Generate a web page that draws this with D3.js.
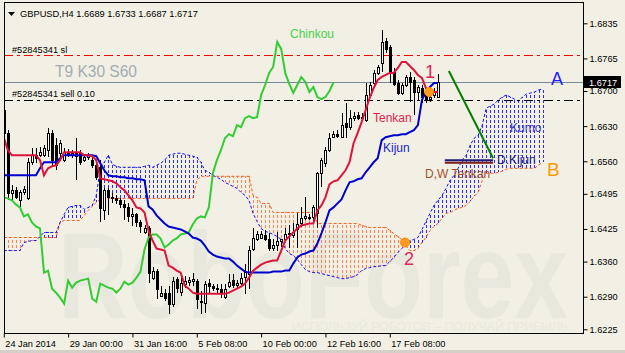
<!DOCTYPE html>
<html>
<head>
<meta charset="utf-8">
<script src="https://cdn.jsdelivr.net/npm/d3@7"></script>
<style>
body { margin: 0; background: #f2f0e4; }
svg { display: block; font-family: "Liberation Sans", Arial, sans-serif; }
</style>
</head>
<body>
<svg id="chart" width="625" height="353"></svg>
<script>
// GBPUSD H4 bars, 24 Jan 2014 08:00 onwards (one value per bar)
var open = [1.6662,1.6616,1.6496,1.6502,1.6482,1.6498,1.6486,1.6558,1.6572,1.6572,
1.6572,1.6582,1.6616,1.6592,1.6576,1.6562,1.6578,1.6572,1.6576,1.6576,
1.6562,1.6568,1.6562,1.6552,1.6548,1.6462,1.6502,1.6488,1.6486,1.6482,
1.6474,1.6468,1.6450,1.6454,1.6438,1.6418,1.6426,1.6328,1.6342,1.6292,
1.6298,1.6298,1.6276,1.6326,1.6300,1.6316,1.6320,1.6322,1.6322,1.6282,
1.6278,1.6318,1.6312,1.6308,1.6306,1.6290,1.6312,1.6324,1.6314,1.6318,
1.6330,1.6336,1.6386,1.6406,1.6408,1.6412,1.6406,1.6388,1.6394,1.6402,
1.6406,1.6414,1.6412,1.6424,1.6436,1.6446,1.6446,1.6448,1.6456,1.6536,
1.6556,1.6582,1.6608,1.6614,1.6608,1.6636,1.6628,1.6646,1.6652,1.6646,
1.6642,1.6692,1.6716,1.6736,1.6756,1.6800,1.6788,1.6738,1.6716,1.6696,
1.6712,1.6728,1.6722,1.6698,1.6706,1.6692,1.6684,1.6692,1.6689];
var high = [1.6668,1.6622,1.6512,1.6508,1.6502,1.6510,1.6566,1.6586,1.6586,1.6588,
1.6592,1.6626,1.6622,1.6606,1.6602,1.6586,1.6584,1.6582,1.6606,1.6582,
1.6572,1.6576,1.6568,1.6558,1.6562,1.6506,1.6506,1.6496,1.6492,1.6486,
1.6482,1.6476,1.6466,1.6456,1.6442,1.6432,1.6430,1.6350,1.6346,1.6312,
1.6306,1.6312,1.6330,1.6330,1.6332,1.6332,1.6330,1.6338,1.6326,1.6302,
1.6322,1.6326,1.6316,1.6316,1.6316,1.6316,1.6336,1.6336,1.6324,1.6338,
1.6356,1.6392,1.6426,1.6420,1.6420,1.6422,1.6416,1.6406,1.6418,1.6406,
1.6426,1.6432,1.6436,1.6456,1.6468,1.6488,1.6454,1.6472,1.6538,1.6566,
1.6588,1.6616,1.6620,1.6622,1.6656,1.6676,1.6662,1.6658,1.6658,1.6656,
1.6716,1.6718,1.6742,1.6752,1.6822,1.6806,1.6792,1.6746,1.6722,1.6716,
1.6732,1.6738,1.6728,1.6712,1.6712,1.6702,1.6700,1.6706,1.6733];
var low = [1.6592,1.6482,1.6482,1.6484,1.6468,1.6492,1.6482,1.6552,1.6556,1.6568,
1.6568,1.6568,1.6548,1.6542,1.6566,1.6558,1.6568,1.6566,1.6522,1.6552,
1.6558,1.6562,1.6546,1.6522,1.6438,1.6442,1.6452,1.6476,1.6474,1.6466,
1.6442,1.6438,1.6430,1.6428,1.6416,1.6414,1.6318,1.6324,1.6286,1.6290,
1.6282,1.6256,1.6270,1.6298,1.6292,1.6308,1.6312,1.6312,1.6266,1.6256,
1.6258,1.6298,1.6302,1.6298,1.6288,1.6286,1.6308,1.6308,1.6308,1.6314,
1.6296,1.6306,1.6382,1.6402,1.6406,1.6402,1.6382,1.6382,1.6382,1.6390,
1.6402,1.6388,1.6408,1.6388,1.6428,1.6442,1.6442,1.6438,1.6426,1.6508,
1.6548,1.6578,1.6606,1.6606,1.6606,1.6606,1.6622,1.6640,1.6642,1.6640,
1.6638,1.6688,1.6710,1.6732,1.6738,1.6776,1.6716,1.6710,1.6692,1.6692,
1.6708,1.6678,1.6652,1.6682,1.6676,1.6676,1.6678,1.6686,1.6687];
var close = [1.6616,1.6496,1.6502,1.6488,1.6498,1.6504,1.6558,1.6572,1.6566,1.6578,
1.6586,1.6616,1.6562,1.6552,1.6596,1.6578,1.6572,1.6576,1.6570,1.6558,
1.6568,1.6572,1.6552,1.6528,1.6466,1.6502,1.6488,1.6486,1.6482,1.6474,
1.6468,1.6450,1.6454,1.6438,1.6430,1.6426,1.6338,1.6342,1.6306,1.6298,
1.6288,1.6276,1.6322,1.6308,1.6318,1.6322,1.6324,1.6326,1.6286,1.6280,
1.6316,1.6312,1.6308,1.6306,1.6298,1.6306,1.6320,1.6314,1.6318,1.6328,
1.6340,1.6384,1.6408,1.6414,1.6414,1.6406,1.6388,1.6394,1.6402,1.6406,
1.6414,1.6416,1.6418,1.6434,1.6446,1.6450,1.6448,1.6468,1.6536,1.6562,
1.6582,1.6606,1.6614,1.6610,1.6632,1.6628,1.6646,1.6650,1.6646,1.6648,
1.6692,1.6712,1.6736,1.6748,1.6798,1.6784,1.6736,1.6714,1.6696,1.6712,
1.6728,1.6718,1.6698,1.6708,1.6688,1.6684,1.6688,1.6700,1.6717];

// Ichimoku lines
var tenkan = [1.6608,1.6582,1.6572,1.6572,1.6572,1.6572,1.6572,1.6572,1.6572,1.6562,
1.6532,1.6546,1.6550,1.6552,1.6562,1.6578,1.6578,1.6578,1.6578,1.6578,
1.6572,1.6572,1.6570,1.6562,1.6526,1.6524,1.6522,1.6520,1.6516,1.6508,
1.6502,1.6492,1.6482,1.6468,1.6466,1.6458,1.6422,1.6402,1.6386,1.6384,
1.6382,1.6352,1.6348,1.6342,1.6338,1.6312,1.6306,1.6298,1.6296,1.6296,
1.6296,1.6296,1.6296,1.6296,1.6296,1.6296,1.6298,1.6302,1.6306,1.6310,
1.6316,1.6328,1.6342,1.6348,1.6354,1.6358,1.6360,1.6362,1.6362,1.6382,
1.6402,1.6410,1.6418,1.6426,1.6432,1.6434,1.6436,1.6436,1.6462,1.6472,
1.6488,1.6514,1.6520,1.6522,1.6532,1.6542,1.6558,1.6596,1.6616,1.6638,
1.6662,1.6686,1.6706,1.6722,1.6728,1.6732,1.6736,1.6736,1.6746,1.6758,
1.6758,1.6750,1.6742,1.6732,1.6726,1.6706,1.6700,1.6698,1.6698];
var kijun = [1.6532,1.6532,1.6532,1.6532,1.6532,1.6532,1.6532,1.6532,1.6532,1.6546,
1.6558,1.6558,1.6558,1.6558,1.6566,1.6572,1.6572,1.6572,1.6572,1.6572,
1.6572,1.6572,1.6572,1.6570,1.6556,1.6542,1.6532,1.6530,1.6530,1.6528,
1.6528,1.6526,1.6526,1.6524,1.6524,1.6522,1.6470,1.6464,1.6452,1.6444,
1.6436,1.6430,1.6428,1.6426,1.6424,1.6420,1.6416,1.6408,1.6406,1.6402,
1.6392,1.6380,1.6374,1.6370,1.6368,1.6366,1.6366,1.6360,1.6352,1.6346,
1.6340,1.6338,1.6338,1.6338,1.6338,1.6338,1.6338,1.6340,1.6340,1.6340,
1.6342,1.6342,1.6356,1.6368,1.6374,1.6376,1.6380,1.6382,1.6396,1.6416,
1.6438,1.6462,1.6468,1.6476,1.6484,1.6502,1.6518,1.6520,1.6524,1.6526,
1.6538,1.6548,1.6558,1.6566,1.6602,1.6608,1.6610,1.6612,1.6612,1.6614,
1.6614,1.6618,1.6622,1.6632,1.6682,1.6698,1.6708,1.6716,1.6716];
// cloud, already drawn 26 bars ahead
var senkouA = [1.6382,1.6382,1.6382,1.6382,1.6382,1.6398,1.6400,1.6402,1.6402,1.6410,
1.6418,1.6418,1.6418,1.6418,1.6438,1.6454,1.6468,1.6470,1.6472,1.6472,
1.6464,1.6468,1.6472,1.6492,1.6546,1.6558,1.6572,1.6554,1.6550,1.6548,
1.6548,1.6548,1.6548,1.6548,1.6548,1.6550,1.6552,1.6548,1.6552,1.6556,
1.6562,1.6572,1.6574,1.6576,1.6576,1.6574,1.6572,1.6570,1.6568,1.6558,
1.6542,1.6538,1.6532,1.6528,1.6524,1.6518,1.6514,1.6510,1.6506,1.6498,
1.6492,1.6482,1.6456,1.6440,1.6426,1.6420,1.6418,1.6414,1.6410,1.6404,
1.6386,1.6376,1.6372,1.6364,1.6354,1.6344,1.6340,1.6338,1.6338,1.6336,
1.6334,1.6332,1.6330,1.6328,1.6326,1.6326,1.6328,1.6330,1.6334,1.6342,
1.6346,1.6348,1.6350,1.6350,1.6352,1.6352,1.6360,1.6368,1.6378,1.6386,
1.6394,1.6402,1.6404,1.6408,1.6424,1.6440,1.6456,1.6472,1.6482,1.6492,
1.6506,1.6522,1.6532,1.6546,1.6562,1.6572,1.6592,1.6606,1.6612,1.6632,
1.6666,1.6670,1.6674,1.6682,1.6688,1.6692,1.6688,1.6684,1.6680,1.6688,
1.6694,1.6696,1.6698,1.6702,1.6704];
var senkouB = [1.6408,1.6408,1.6408,1.6408,1.6408,1.6408,1.6408,1.6408,1.6408,1.6408,
1.6408,1.6408,1.6408,1.6408,1.6438,1.6442,1.6442,1.6442,1.6442,1.6442,
1.6452,1.6462,1.6470,1.6478,1.6484,1.6486,1.6486,1.6486,1.6486,1.6486,
1.6486,1.6486,1.6486,1.6486,1.6486,1.6486,1.6486,1.6486,1.6486,1.6486,
1.6486,1.6486,1.6486,1.6486,1.6486,1.6486,1.6486,1.6486,1.6522,1.6530,
1.6530,1.6530,1.6530,1.6530,1.6530,1.6530,1.6530,1.6530,1.6530,1.6530,
1.6530,1.6530,1.6492,1.6488,1.6476,1.6476,1.6476,1.6458,1.6458,1.6458,
1.6458,1.6458,1.6458,1.6458,1.6458,1.6458,1.6458,1.6458,1.6436,1.6436,
1.6436,1.6436,1.6436,1.6436,1.6436,1.6436,1.6436,1.6436,1.6436,1.6432,
1.6430,1.6428,1.6428,1.6428,1.6428,1.6428,1.6422,1.6416,1.6410,1.6404,
1.6392,1.6382,1.6382,1.6386,1.6398,1.6408,1.6422,1.6430,1.6436,1.6446,
1.6456,1.6458,1.6462,1.6466,1.6468,1.6472,1.6480,1.6490,1.6498,1.6522,
1.6536,1.6536,1.6536,1.6538,1.6540,1.6544,1.6546,1.6546,1.6546,1.6546,
1.6546,1.6546,1.6546,1.6552,1.6558];
var chinkouShift = 26;

var tickBars = [0, 16, 32, 48, 64, 80, 96];
var tickLabels = ["24 Jan 2014", "29 Jan 00:00", "31 Jan 16:00", "5 Feb 08:00", "10 Feb 00:00", "12 Feb 16:00", "17 Feb 08:00"];
var priceTicks = [1.6835, 1.6765, 1.6700, 1.6630, 1.6560, 1.6495, 1.6425, 1.6360, 1.6290, 1.6225];

var stopLoss = 1.6772, sellPrice = 1.6682, bid = 1.6717;
// hand drawn objects: [bar, price]
var crossMarks = [[105.8, 1.6698], [99.8, 1.6398]];
var trendLine = [[110.7, 1.6740], [121.7, 1.6566]];
var dKijun = [[109.7, 121.7], [1.6562, 1.6557]];

var svg = d3.select("#chart");
var bg = "#f2f0e4";
svg.append("rect").attr("width", 625).attr("height", 353).attr("fill", bg);

var x = d3.scaleLinear().domain([0, 108]).range([3.8, 438]);
var y = d3.scaleLinear().domain([1.6225, 1.6835]).range([329.3, 23.3]);
function px(i) { return Math.round(x(i)) + 0.5; }
function py(v) { return Math.round(y(v)) + 0.5; }

svg.append("clipPath").attr("id", "plot")
    .append("rect").attr("x", 4.5).attr("y", 2.5).attr("width", 579).attr("height", 331);
var g = svg.append("g").attr("clip-path", "url(#plot)");

// watermark
g.append("text")
    .attr("x", 58).attr("y", 318)
    .attr("font-size", 122).attr("font-weight", "bold")
    .attr("textLength", 510).attr("lengthAdjust", "spacingAndGlyphs")
    .attr("fill", "#e8e8de")
    .text("RoboForex");
g.append("text")
    .attr("x", 292).attr("y", 331)
    .attr("font-size", 13)
    .attr("textLength", 276).attr("lengthAdjust", "spacingAndGlyphs")
    .attr("fill", "#e9e8dd")
    .text("ИСПОЛЬЗУЙ РОБОТОВ – ПОЛУЧАЙ ПРИБЫЛЬ");

// kumo hatch
var cloudIdx = d3.range(senkouA.length);
function cloudTop(i) { return Math.min(y(senkouA[i]), y(senkouB[i])); }
function cloudBot(i) { return Math.max(y(senkouA[i]), y(senkouB[i])); }
g.selectAll(".hatch").data(cloudIdx).enter().append("line")
    .attr("x1", px).attr("x2", px)
    .attr("y1", cloudTop).attr("y2", cloudBot)
    .attr("stroke", function(i) { return senkouA[i] >= senkouB[i] ? "#2a2aff" : "#ff8050"; })
    .attr("stroke-width", 1)
    .attr("stroke-dasharray", "3,2")
    .attr("stroke-dashoffset", cloudTop)
    .attr("shape-rendering", "crispEdges");

var lineOf = function(arr, shift) {
    return d3.line()
        .x(function(d, i) { return x(i + shift); })
        .y(function(d) { return y(d); })(arr);
};
g.append("path").attr("d", lineOf(senkouB, 0))
    .attr("fill", "none").attr("stroke", "#ff5a14").attr("stroke-width", 1).attr("stroke-dasharray", "3,2");
g.append("path").attr("d", lineOf(senkouA, 0))
    .attr("fill", "none").attr("stroke", "#1010ff").attr("stroke-width", 1).attr("stroke-dasharray", "3,2");

// order lines
g.append("line").attr("x1", 4).attr("x2", 583).attr("y1", py(stopLoss)).attr("y2", py(stopLoss))
    .attr("stroke", "#ff0000").attr("stroke-dasharray", "9,4,3,4");
g.append("line").attr("x1", 4).attr("x2", 583).attr("y1", py(sellPrice)).attr("y2", py(sellPrice))
    .attr("stroke", "#000").attr("stroke-dasharray", "9,4,3,4");
g.append("line").attr("x1", 4).attr("x2", 583).attr("y1", py(bid)).attr("y2", py(bid))
    .attr("stroke", "#778899");

// candles
var bars = d3.range(close.length);
g.selectAll(".wick").data(bars).enter().append("line")
    .attr("x1", px).attr("x2", px)
    .attr("y1", function(i) { return y(high[i]); })
    .attr("y2", function(i) { return y(low[i]); })
    .attr("stroke", "#000").attr("shape-rendering", "crispEdges");
g.selectAll(".body").data(bars).enter().append("rect")
    .attr("x", function(i) { return px(i) - 1; })
    .attr("width", 2)
    .attr("y", function(i) { return py(Math.max(open[i], close[i])); })
    .attr("height", function(i) { return Math.max(0.01, py(Math.min(open[i], close[i])) - py(Math.max(open[i], close[i]))); })
    .attr("fill", function(i) { return close[i] >= open[i] ? "#ffffff" : "#000"; })
    .attr("stroke", "#000").attr("shape-rendering", "crispEdges");

// chinkou = close drawn 26 bars back, then kijun and tenkan
g.append("path").attr("d", lineOf(close.slice(chinkouShift), 0))
    .attr("fill", "none").attr("stroke", "#33cc33").attr("stroke-width", 2);
g.append("path").attr("d", lineOf(kijun, 0))
    .attr("fill", "none").attr("stroke", "#0000cd").attr("stroke-width", 2);
g.append("path").attr("d", lineOf(tenkan, 0))
    .attr("fill", "none").attr("stroke", "#dc143c").attr("stroke-width", 2);

// hand drawn objects
g.append("line")
    .attr("x1", x(trendLine[0][0])).attr("y1", y(trendLine[0][1]))
    .attr("x2", x(trendLine[1][0])).attr("y2", y(trendLine[1][1]))
    .attr("stroke", "#008000").attr("stroke-width", 2);
g.append("line")
    .attr("x1", x(dKijun[0][0])).attr("x2", x(dKijun[0][1]))
    .attr("y1", y(dKijun[1][0])).attr("y2", y(dKijun[1][0]))
    .attr("stroke", "#1c1c78").attr("stroke-width", 2);
g.append("line")
    .attr("x1", x(dKijun[0][0])).attr("x2", x(dKijun[0][1]))
    .attr("y1", y(dKijun[1][1])).attr("y2", y(dKijun[1][1]))
    .attr("stroke", "#7a1c1c").attr("stroke-width", 2);
g.selectAll(".cross").data(crossMarks).enter().append("circle")
    .attr("cx", function(d) { return x(d[0]); })
    .attr("cy", function(d) { return y(d[1]); })
    .attr("r", 4.5)
    .attr("fill", "#ff9a1e").attr("stroke", "#ff8a00");

// labels
function label(t, lx, ly, size, color) {
    return g.append("text").attr("x", lx).attr("y", ly)
        .attr("font-size", size).attr("fill", color).text(t);
}
label("T9 K30 S60", 55, 77, 17, "#a3abb5")
    .attr("textLength", 82).attr("lengthAdjust", "spacingAndGlyphs");
label("#52845341 sl", 12, 53, 9.2, "#000");
label("#52845341 sell 0.10", 12, 97, 9.2, "#000");
label("Chinkou", 290, 37.5, 12, "#4ccf4c");
label("Tenkan", 373, 122, 12, "#dc1f50");
label("Kijun", 383, 152, 12, "#2222d0");
label("Kumo", 510, 132, 12, "#3a3ac8");
label("D.Kijun", 497, 164, 12, "#1c1c80");
label("D,W Tenkan", 425, 178, 12, "#a0522d");
label("1", 425, 78, 18, "#e0245a");
label("2", 404, 265, 18, "#e0245a");
label("A", 551, 85, 18, "#1e1eff");
label("B", 547, 176, 19, "#ff9900");

// title
svg.append("path").attr("d", "M8,12 L15,12 L11.5,16 Z").attr("fill", "#000");
svg.append("text").attr("x", 20).attr("y", 17).attr("font-size", 9.3)
    .text("GBPUSD,H4  1.6689 1.6733 1.6687 1.6717");

// frame
svg.append("rect").attr("x", 4.5).attr("y", 2.5).attr("width", 579).attr("height", 331)
    .attr("fill", "none").attr("stroke", "#000");

// axes
var yAxis = d3.axisRight(y).tickValues(priceTicks).tickSize(4).tickPadding(2)
    .tickFormat(d3.format(".4f"));
var ya = svg.append("g").attr("transform", "translate(583.5,0)").call(yAxis);
ya.select(".domain").remove();
ya.selectAll("text").attr("font-size", 9.2).attr("font-family", "Liberation Sans, Arial, sans-serif");

var xAxis = d3.axisBottom(x).tickValues(tickBars).tickSize(4).tickPadding(3)
    .tickFormat(function(d, k) { return tickLabels[k]; });
var xa = svg.append("g").attr("transform", "translate(0,333.5)").call(xAxis);
xa.select(".domain").remove();
xa.selectAll("text").attr("font-size", 9.2).attr("text-anchor", "start").attr("x", 1)
    .attr("font-family", "Liberation Sans, Arial, sans-serif");

// bid price box
svg.append("rect").attr("x", 584).attr("y", py(bid) - 6.5).attr("width", 37).attr("height", 12).attr("fill", "#000");
svg.append("text").attr("x", 589).attr("y", py(bid) + 3.5).attr("font-size", 9.2).attr("fill", "#fff")
    .text(d3.format(".4f")(bid));

svg.append("rect").attr("x", 0).attr("y", 350).attr("width", 625).attr("height", 3).attr("fill", "#d4d0c8");
</script>
</body>
</html>
